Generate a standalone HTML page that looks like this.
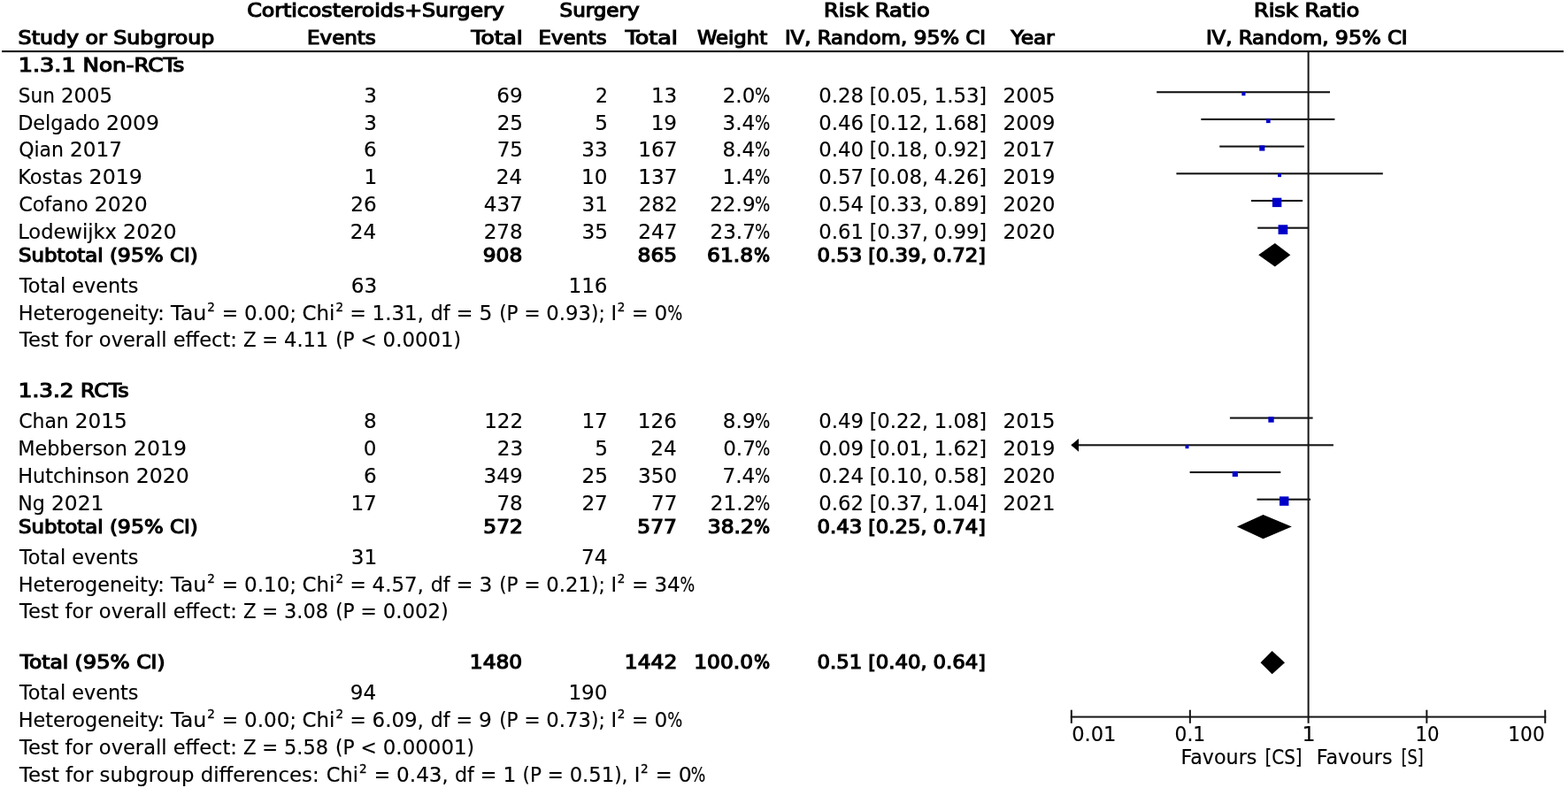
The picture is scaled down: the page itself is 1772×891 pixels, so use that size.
<!DOCTYPE html>
<html lang="en">
<head>
<meta charset="utf-8">
<title>Forest plot: Corticosteroids+Surgery versus Surgery</title>
<style>
html,body{margin:0;padding:0;background:#fff;}
body{width:1772px;height:891px;overflow:hidden;}
svg{display:block;}
text{font-family:"DejaVu Sans","Liberation Sans",sans-serif;font-size:22.4px;fill:#000;stroke:#000;stroke-width:0.15px;stroke-linejoin:round;white-space:pre;}
text.b{font-size:20.6px;stroke-width:1.15px;stroke-linejoin:miter;}
.d{font-size:23.6px;}
text.b .d{font-size:21.4px;}
.sup{font-size:13.5px;stroke-width:0.35px;}
</style>
</head>
<body>
<svg width="1772" height="891" viewBox="0 0 1772 891">
<rect width="1772" height="891" fill="#fff"/>
<g id="shapes">
<rect x="2" y="57.05" width="1765" height="2.1" fill="#161616"/>
<rect x="1477.6" y="58" width="2" height="759.8" fill="#161616"/>
<rect x="1307.2" y="103.15" width="195.8" height="2.1" fill="#161616"/>
<rect x="1403.35" y="104.05" width="4.09" height="4.09" fill="#0000c8"/>
<rect x="1357.3" y="133.85" width="151.1" height="2.1" fill="#161616"/>
<rect x="1430.97" y="134.47" width="4.65" height="4.65" fill="#0000c8"/>
<rect x="1378.2" y="164.55" width="95.6" height="2.1" fill="#161616"/>
<rect x="1423.23" y="164.43" width="6.14" height="6.14" fill="#0000c8"/>
<rect x="1329.4" y="195.25" width="233.4" height="2.1" fill="#161616"/>
<rect x="1444.05" y="196.25" width="3.91" height="3.91" fill="#0000c8"/>
<rect x="1413.9" y="225.95" width="58.2" height="2.1" fill="#161616"/>
<rect x="1437.89" y="223.69" width="10.42" height="10.42" fill="#0000c8"/>
<rect x="1421.2" y="256.65" width="57.4" height="2.1" fill="#161616"/>
<rect x="1444.55" y="254.25" width="10.7" height="10.7" fill="#0000c8"/>
<polygon points="1422.2,288.3 1440.8,275.1 1458.3,288.3 1440.8,301.5" fill="#000"/>
<rect x="1389.9" y="471.55" width="93.7" height="2.1" fill="#161616"/>
<rect x="1433.34" y="471.34" width="6.32" height="6.32" fill="#0000c8"/>
<rect x="1211" y="502.25" width="295.9" height="2.1" fill="#161616"/>
<polygon points="1210.4,503.3 1219,495.9 1219,510.7" fill="#000"/>
<rect x="1339.55" y="503.25" width="3.91" height="3.91" fill="#0000c8"/>
<rect x="1344.6" y="532.95" width="102.7" height="2.1" fill="#161616"/>
<rect x="1392.73" y="532.83" width="6.14" height="6.14" fill="#0000c8"/>
<rect x="1420.5" y="563.65" width="60.6" height="2.1" fill="#161616"/>
<rect x="1445.99" y="561.39" width="10.42" height="10.42" fill="#0000c8"/>
<polygon points="1397.9,595.6 1427.5,581.9 1459.8,595.6 1427.5,609.3" fill="#000"/>
<polygon points="1424.5,749.2 1437.6,736.1 1452,749.2 1437.6,762.3" fill="#000"/>
<rect x="1209.8" y="809.6" width="537.4" height="2" fill="#161616"/>
<rect x="1209.8" y="802.7" width="2" height="15.1" fill="#161616"/>
<rect x="1343.85" y="802.7" width="2" height="15.1" fill="#161616"/>
<rect x="1611.35" y="802.7" width="2" height="15.1" fill="#161616"/>
<rect x="1745.2" y="802.7" width="2" height="15.1" fill="#161616"/>
</g>
<g id="labels">
<text class="b" id="s0" x="279.18" y="18.83" textLength="290.64" lengthAdjust="spacingAndGlyphs">Corticosteroids+Surgery</text>
<text class="b" id="s1" x="632.56" y="18.83" textLength="90" lengthAdjust="spacingAndGlyphs">Surgery</text>
<text class="b" id="s2" x="931.1" y="18.83" textLength="119.64" lengthAdjust="spacingAndGlyphs">Risk Ratio</text>
<text class="b" id="s3" x="1416.92" y="18.83" textLength="119.33" lengthAdjust="spacingAndGlyphs">Risk Ratio</text>
<text class="b" id="s4" x="20.62" y="49.93" textLength="221.62" lengthAdjust="spacingAndGlyphs">Study or Subgroup</text>
<text class="b" id="s5" x="347.11" y="49.93" textLength="77.73" lengthAdjust="spacingAndGlyphs">Events</text>
<text class="b" id="s6" x="532.53" y="49.93" textLength="58.26" lengthAdjust="spacingAndGlyphs">Total</text>
<text class="b" id="s7" x="608.61" y="49.93" textLength="76.85" lengthAdjust="spacingAndGlyphs">Events</text>
<text class="b" id="s8" x="706.66" y="49.93" textLength="59.19" lengthAdjust="spacingAndGlyphs">Total</text>
<text class="b" id="s9" x="787.94" y="49.93" textLength="79.16" lengthAdjust="spacingAndGlyphs">Weight</text>
<text class="b" id="s10" x="886.9" y="49.93" textLength="227.09" lengthAdjust="spacingAndGlyphs">IV, Random, <tspan class="d">95</tspan>% CI</text>
<text class="b" id="s11" x="1142.59" y="49.93" textLength="49.05" lengthAdjust="spacingAndGlyphs">Year</text>
<text class="b" id="s12" x="1362.9" y="49.93" textLength="227.71" lengthAdjust="spacingAndGlyphs">IV, Random, <tspan class="d">95</tspan>% CI</text>
<text class="b" id="s13" x="20.69" y="80.52" textLength="187.55" lengthAdjust="spacingAndGlyphs"><tspan class="d">1.3.1</tspan> Non-RCTs</text>
<text id="s14" x="20.85" y="116" textLength="106.04" lengthAdjust="spacingAndGlyphs">Sun <tspan class="d">2005</tspan></text>
<text id="s15" x="426.07" y="116" text-anchor="end" textLength="14.71" lengthAdjust="spacingAndGlyphs"><tspan class="d">3</tspan></text>
<text id="s16" x="590.7" y="116" text-anchor="end" textLength="29.41" lengthAdjust="spacingAndGlyphs"><tspan class="d">69</tspan></text>
<text id="s17" x="687" y="116" text-anchor="end" textLength="13.96" lengthAdjust="spacingAndGlyphs">2</text>
<text id="s18" x="765.31" y="116" text-anchor="end" textLength="29.41" lengthAdjust="spacingAndGlyphs"><tspan class="d">13</tspan></text>
<text><tspan id="s19" x="853.42" y="116" text-anchor="end" textLength="36.76" lengthAdjust="spacingAndGlyphs"><tspan class="d">2.0</tspan></tspan><tspan id="s20" x="853.11" y="116" textLength="17.32" lengthAdjust="spacingAndGlyphs">%</tspan></text>
<text id="s21" x="1115.06" y="116" text-anchor="end" textLength="189.88" lengthAdjust="spacingAndGlyphs"><tspan class="d">0.28</tspan> [<tspan class="d">0.05</tspan>, <tspan class="d">1.53</tspan>]</text>
<text id="s22" x="1133.55" y="116" textLength="58.81" lengthAdjust="spacingAndGlyphs"><tspan class="d">2005</tspan></text>
<text id="s23" x="20.19" y="146.7" textLength="159.65" lengthAdjust="spacingAndGlyphs">Delgado <tspan class="d">2009</tspan></text>
<text id="s24" x="426.07" y="146.7" text-anchor="end" textLength="14.71" lengthAdjust="spacingAndGlyphs"><tspan class="d">3</tspan></text>
<text id="s25" x="591.04" y="146.7" text-anchor="end" textLength="29.41" lengthAdjust="spacingAndGlyphs"><tspan class="d">25</tspan></text>
<text id="s26" x="686.85" y="146.7" text-anchor="end" textLength="14.71" lengthAdjust="spacingAndGlyphs"><tspan class="d">5</tspan></text>
<text id="s27" x="765.08" y="146.7" text-anchor="end" textLength="29.41" lengthAdjust="spacingAndGlyphs"><tspan class="d">19</tspan></text>
<text><tspan id="s28" x="853.21" y="146.7" text-anchor="end" textLength="36.76" lengthAdjust="spacingAndGlyphs"><tspan class="d">3.4</tspan></tspan><tspan id="s29" x="853.11" y="146.7" textLength="17.32" lengthAdjust="spacingAndGlyphs">%</tspan></text>
<text id="s30" x="1115.06" y="146.7" text-anchor="end" textLength="189.88" lengthAdjust="spacingAndGlyphs"><tspan class="d">0.46</tspan> [<tspan class="d">0.12</tspan>, <tspan class="d">1.68</tspan>]</text>
<text id="s31" x="1133.55" y="146.7" textLength="58.81" lengthAdjust="spacingAndGlyphs"><tspan class="d">2009</tspan></text>
<text id="s32" x="21.17" y="177.4" textLength="116.72" lengthAdjust="spacingAndGlyphs">Qian <tspan class="d">2017</tspan></text>
<text id="s33" x="425.62" y="177.4" text-anchor="end" textLength="14.71" lengthAdjust="spacingAndGlyphs"><tspan class="d">6</tspan></text>
<text id="s34" x="591.04" y="177.4" text-anchor="end" textLength="29.41" lengthAdjust="spacingAndGlyphs"><tspan class="d">75</tspan></text>
<text id="s35" x="686.7" y="177.4" text-anchor="end" textLength="29.41" lengthAdjust="spacingAndGlyphs"><tspan class="d">33</tspan></text>
<text id="s36" x="765.42" y="177.4" text-anchor="end" textLength="44.12" lengthAdjust="spacingAndGlyphs"><tspan class="d">167</tspan></text>
<text><tspan id="s37" x="853.21" y="177.4" text-anchor="end" textLength="36.76" lengthAdjust="spacingAndGlyphs"><tspan class="d">8.4</tspan></tspan><tspan id="s38" x="853.11" y="177.4" textLength="17.32" lengthAdjust="spacingAndGlyphs">%</tspan></text>
<text id="s39" x="1115.06" y="177.4" text-anchor="end" textLength="189.88" lengthAdjust="spacingAndGlyphs"><tspan class="d">0.40</tspan> [<tspan class="d">0.18</tspan>, <tspan class="d">0.92</tspan>]</text>
<text id="s40" x="1133.55" y="177.4" textLength="58.81" lengthAdjust="spacingAndGlyphs"><tspan class="d">2017</tspan></text>
<text id="s41" x="20.16" y="208.1" textLength="140.66" lengthAdjust="spacingAndGlyphs">Kostas <tspan class="d">2019</tspan></text>
<text id="s42" x="426.19" y="208.1" text-anchor="end" textLength="14.71" lengthAdjust="spacingAndGlyphs"><tspan class="d">1</tspan></text>
<text id="s43" x="590.22" y="208.1" text-anchor="end" textLength="29.41" lengthAdjust="spacingAndGlyphs"><tspan class="d">24</tspan></text>
<text id="s44" x="686.38" y="208.1" text-anchor="end" textLength="29.41" lengthAdjust="spacingAndGlyphs"><tspan class="d">10</tspan></text>
<text id="s45" x="765.42" y="208.1" text-anchor="end" textLength="44.12" lengthAdjust="spacingAndGlyphs"><tspan class="d">137</tspan></text>
<text><tspan id="s46" x="853.21" y="208.1" text-anchor="end" textLength="36.76" lengthAdjust="spacingAndGlyphs"><tspan class="d">1.4</tspan></tspan><tspan id="s47" x="853.11" y="208.1" textLength="17.32" lengthAdjust="spacingAndGlyphs">%</tspan></text>
<text id="s48" x="1115.06" y="208.1" text-anchor="end" textLength="189.88" lengthAdjust="spacingAndGlyphs"><tspan class="d">0.57</tspan> [<tspan class="d">0.08</tspan>, <tspan class="d">4.26</tspan>]</text>
<text id="s49" x="1133.55" y="208.1" textLength="58.81" lengthAdjust="spacingAndGlyphs"><tspan class="d">2019</tspan></text>
<text id="s50" x="21.14" y="238.8" textLength="145.52" lengthAdjust="spacingAndGlyphs">Cofano <tspan class="d">2020</tspan></text>
<text id="s51" x="425.72" y="238.8" text-anchor="end" textLength="29.41" lengthAdjust="spacingAndGlyphs"><tspan class="d">26</tspan></text>
<text id="s52" x="590.82" y="238.8" text-anchor="end" textLength="44.12" lengthAdjust="spacingAndGlyphs"><tspan class="d">437</tspan></text>
<text id="s53" x="686.91" y="238.8" text-anchor="end" textLength="29.41" lengthAdjust="spacingAndGlyphs"><tspan class="d">31</tspan></text>
<text id="s54" x="765.75" y="238.8" text-anchor="end" textLength="44.12" lengthAdjust="spacingAndGlyphs"><tspan class="d">282</tspan></text>
<text><tspan id="s55" x="853.62" y="238.8" text-anchor="end" textLength="51.46" lengthAdjust="spacingAndGlyphs"><tspan class="d">22.9</tspan></tspan><tspan id="s56" x="853.11" y="238.8" textLength="17.32" lengthAdjust="spacingAndGlyphs">%</tspan></text>
<text id="s57" x="1115.06" y="238.8" text-anchor="end" textLength="189.88" lengthAdjust="spacingAndGlyphs"><tspan class="d">0.54</tspan> [<tspan class="d">0.33</tspan>, <tspan class="d">0.89</tspan>]</text>
<text id="s58" x="1133.55" y="238.8" textLength="58.81" lengthAdjust="spacingAndGlyphs"><tspan class="d">2020</tspan></text>
<text id="s59" x="20.15" y="269.5" textLength="179.57" lengthAdjust="spacingAndGlyphs">Lodewijkx <tspan class="d">2020</tspan></text>
<text id="s60" x="425.22" y="269.5" text-anchor="end" textLength="29.41" lengthAdjust="spacingAndGlyphs"><tspan class="d">24</tspan></text>
<text id="s61" x="590.79" y="269.5" text-anchor="end" textLength="44.12" lengthAdjust="spacingAndGlyphs"><tspan class="d">278</tspan></text>
<text id="s62" x="686.85" y="269.5" text-anchor="end" textLength="29.41" lengthAdjust="spacingAndGlyphs"><tspan class="d">35</tspan></text>
<text id="s63" x="765.42" y="269.5" text-anchor="end" textLength="44.12" lengthAdjust="spacingAndGlyphs"><tspan class="d">247</tspan></text>
<text><tspan id="s64" x="853.93" y="269.5" text-anchor="end" textLength="51.46" lengthAdjust="spacingAndGlyphs"><tspan class="d">23.7</tspan></tspan><tspan id="s65" x="853.11" y="269.5" textLength="17.32" lengthAdjust="spacingAndGlyphs">%</tspan></text>
<text id="s66" x="1115.06" y="269.5" text-anchor="end" textLength="189.88" lengthAdjust="spacingAndGlyphs"><tspan class="d">0.61</tspan> [<tspan class="d">0.37</tspan>, <tspan class="d">0.99</tspan>]</text>
<text id="s67" x="1133.55" y="269.5" textLength="58.81" lengthAdjust="spacingAndGlyphs"><tspan class="d">2020</tspan></text>
<text class="b" id="s68" x="20.96" y="295.82" textLength="202.66" lengthAdjust="spacingAndGlyphs">Subtotal (<tspan class="d">95</tspan>% CI)</text>
<text class="b" id="s69" x="590.29" y="295.82" text-anchor="end" textLength="44.55" lengthAdjust="spacingAndGlyphs"><tspan class="d">908</tspan></text>
<text class="b" id="s70" x="765.09" y="295.82" text-anchor="end" textLength="44.55" lengthAdjust="spacingAndGlyphs"><tspan class="d">865</tspan></text>
<text class="b"><tspan id="s71" x="851.11" y="295.82" text-anchor="end" textLength="51.98" lengthAdjust="spacingAndGlyphs"><tspan class="d">61.8</tspan></tspan><tspan id="s72" x="851.91" y="295.82" textLength="18.12" lengthAdjust="spacingAndGlyphs">%</tspan></text>
<text class="b" id="s73" x="1113.91" y="295.82" text-anchor="end" textLength="190.5" lengthAdjust="spacingAndGlyphs"><tspan class="d">0.53</tspan> [<tspan class="d">0.39</tspan>, <tspan class="d">0.72</tspan>]</text>
<text id="s74" x="22.02" y="330.9" textLength="134.43" lengthAdjust="spacingAndGlyphs">Total events</text>
<text id="s75" x="426.14" y="330.9" text-anchor="end" textLength="29.41" lengthAdjust="spacingAndGlyphs"><tspan class="d">63</tspan></text>
<text id="s76" x="686.56" y="330.9" text-anchor="end" textLength="44.12" lengthAdjust="spacingAndGlyphs"><tspan class="d">116</tspan></text>
<text><tspan id="s77" x="20.7" y="361.6" textLength="165.15" lengthAdjust="spacingAndGlyphs">Heterogeneity:</tspan> <tspan id="s78" x="193.05" y="361.6" textLength="40.24" lengthAdjust="spacingAndGlyphs">Tau</tspan><tspan id="s79" x="234.34" y="351.8" class="sup">2</tspan> <tspan id="s80" x="250.72" y="361.6" textLength="84.05" lengthAdjust="spacingAndGlyphs">= <tspan class="d">0.00</tspan>;</tspan> <tspan id="s81" x="341.42" y="361.6" textLength="36.84" lengthAdjust="spacingAndGlyphs">Chi</tspan><tspan id="s82" x="379.6" y="351.8" class="sup">2</tspan> <tspan id="s83" x="395.43" y="361.6" textLength="83.26" lengthAdjust="spacingAndGlyphs">= <tspan class="d">1.31</tspan>,</tspan> <tspan id="s84" x="486.77" y="361.6" textLength="69.59" lengthAdjust="spacingAndGlyphs">df = <tspan class="d">5</tspan></tspan> <tspan id="s85" x="564.14" y="361.6" textLength="119.57" lengthAdjust="spacingAndGlyphs">(P = <tspan class="d">0.93</tspan>);</tspan> <tspan id="s86" x="690.53" y="361.6">I</tspan><tspan id="s87" x="697.78" y="351.8" class="sup">2</tspan> <tspan id="s88" x="714.09" y="361.6" textLength="40.33" lengthAdjust="spacingAndGlyphs">= <tspan class="d">0</tspan></tspan><tspan id="s89" x="754.14" y="361.6" textLength="17.01" lengthAdjust="spacingAndGlyphs">%</tspan></text>
<text><tspan id="s90" x="21.99" y="392.3" textLength="245.91" lengthAdjust="spacingAndGlyphs">Test for overall effect:</tspan> <tspan id="s91" x="274.94" y="392.3" textLength="96.27" lengthAdjust="spacingAndGlyphs">Z = <tspan class="d">4.11</tspan></tspan> <tspan id="s92" x="379.13" y="392.3" textLength="141.91" lengthAdjust="spacingAndGlyphs">(P &lt; <tspan class="d">0.0001</tspan>)</tspan></text>
<text class="b" id="s93" x="20.84" y="448.92" textLength="124.88" lengthAdjust="spacingAndGlyphs"><tspan class="d">1.3.2</tspan> RCTs</text>
<text id="s94" x="21.17" y="484.4" textLength="122.5" lengthAdjust="spacingAndGlyphs">Chan <tspan class="d">2015</tspan></text>
<text id="s95" x="425.69" y="484.4" text-anchor="end" textLength="14.71" lengthAdjust="spacingAndGlyphs"><tspan class="d">8</tspan></text>
<text id="s96" x="591.28" y="484.4" text-anchor="end" textLength="44.12" lengthAdjust="spacingAndGlyphs"><tspan class="d">122</tspan></text>
<text id="s97" x="686.79" y="484.4" text-anchor="end" textLength="29.41" lengthAdjust="spacingAndGlyphs"><tspan class="d">17</tspan></text>
<text id="s98" x="764.98" y="484.4" text-anchor="end" textLength="44.12" lengthAdjust="spacingAndGlyphs"><tspan class="d">126</tspan></text>
<text><tspan id="s99" x="853.62" y="484.4" text-anchor="end" textLength="36.76" lengthAdjust="spacingAndGlyphs"><tspan class="d">8.9</tspan></tspan><tspan id="s100" x="853.11" y="484.4" textLength="17.32" lengthAdjust="spacingAndGlyphs">%</tspan></text>
<text id="s101" x="1115.06" y="484.4" text-anchor="end" textLength="189.88" lengthAdjust="spacingAndGlyphs"><tspan class="d">0.49</tspan> [<tspan class="d">0.22</tspan>, <tspan class="d">1.08</tspan>]</text>
<text id="s102" x="1133.55" y="484.4" textLength="58.81" lengthAdjust="spacingAndGlyphs"><tspan class="d">2015</tspan></text>
<text id="s103" x="20.16" y="515.1" textLength="190.77" lengthAdjust="spacingAndGlyphs">Mebberson <tspan class="d">2019</tspan></text>
<text id="s104" x="425.56" y="515.1" text-anchor="end" textLength="14.71" lengthAdjust="spacingAndGlyphs"><tspan class="d">0</tspan></text>
<text id="s105" x="591.14" y="515.1" text-anchor="end" textLength="29.41" lengthAdjust="spacingAndGlyphs"><tspan class="d">23</tspan></text>
<text id="s106" x="686.85" y="515.1" text-anchor="end" textLength="14.71" lengthAdjust="spacingAndGlyphs"><tspan class="d">5</tspan></text>
<text id="s107" x="764.74" y="515.1" text-anchor="end" textLength="29.41" lengthAdjust="spacingAndGlyphs"><tspan class="d">24</tspan></text>
<text><tspan id="s108" x="853.93" y="515.1" text-anchor="end" textLength="36.76" lengthAdjust="spacingAndGlyphs"><tspan class="d">0.7</tspan></tspan><tspan id="s109" x="853.11" y="515.1" textLength="17.32" lengthAdjust="spacingAndGlyphs">%</tspan></text>
<text id="s110" x="1115.06" y="515.1" text-anchor="end" textLength="189.88" lengthAdjust="spacingAndGlyphs"><tspan class="d">0.09</tspan> [<tspan class="d">0.01</tspan>, <tspan class="d">1.62</tspan>]</text>
<text id="s111" x="1133.55" y="515.1" textLength="58.81" lengthAdjust="spacingAndGlyphs"><tspan class="d">2019</tspan></text>
<text id="s112" x="20.16" y="545.8" textLength="193.59" lengthAdjust="spacingAndGlyphs">Hutchinson <tspan class="d">2020</tspan></text>
<text id="s113" x="425.62" y="545.8" text-anchor="end" textLength="14.71" lengthAdjust="spacingAndGlyphs"><tspan class="d">6</tspan></text>
<text id="s114" x="590.7" y="545.8" text-anchor="end" textLength="44.12" lengthAdjust="spacingAndGlyphs"><tspan class="d">349</tspan></text>
<text id="s115" x="686.85" y="545.8" text-anchor="end" textLength="29.41" lengthAdjust="spacingAndGlyphs"><tspan class="d">25</tspan></text>
<text id="s116" x="765.14" y="545.8" text-anchor="end" textLength="44.12" lengthAdjust="spacingAndGlyphs"><tspan class="d">350</tspan></text>
<text><tspan id="s117" x="853.21" y="545.8" text-anchor="end" textLength="36.76" lengthAdjust="spacingAndGlyphs"><tspan class="d">7.4</tspan></tspan><tspan id="s118" x="853.11" y="545.8" textLength="17.32" lengthAdjust="spacingAndGlyphs">%</tspan></text>
<text id="s119" x="1115.06" y="545.8" text-anchor="end" textLength="189.88" lengthAdjust="spacingAndGlyphs"><tspan class="d">0.24</tspan> [<tspan class="d">0.10</tspan>, <tspan class="d">0.58</tspan>]</text>
<text id="s120" x="1133.55" y="545.8" textLength="58.81" lengthAdjust="spacingAndGlyphs"><tspan class="d">2020</tspan></text>
<text id="s121" x="20.19" y="576.5" textLength="97.19" lengthAdjust="spacingAndGlyphs">Ng <tspan class="d">2021</tspan></text>
<text id="s122" x="425.82" y="576.5" text-anchor="end" textLength="29.41" lengthAdjust="spacingAndGlyphs"><tspan class="d">17</tspan></text>
<text id="s123" x="590.79" y="576.5" text-anchor="end" textLength="29.41" lengthAdjust="spacingAndGlyphs"><tspan class="d">78</tspan></text>
<text id="s124" x="686.79" y="576.5" text-anchor="end" textLength="29.41" lengthAdjust="spacingAndGlyphs"><tspan class="d">27</tspan></text>
<text id="s125" x="765.42" y="576.5" text-anchor="end" textLength="29.41" lengthAdjust="spacingAndGlyphs"><tspan class="d">77</tspan></text>
<text><tspan id="s126" x="854.25" y="576.5" text-anchor="end" textLength="51.46" lengthAdjust="spacingAndGlyphs"><tspan class="d">21.2</tspan></tspan><tspan id="s127" x="853.11" y="576.5" textLength="17.32" lengthAdjust="spacingAndGlyphs">%</tspan></text>
<text id="s128" x="1115.06" y="576.5" text-anchor="end" textLength="189.88" lengthAdjust="spacingAndGlyphs"><tspan class="d">0.62</tspan> [<tspan class="d">0.37</tspan>, <tspan class="d">1.04</tspan>]</text>
<text id="s129" x="1133.55" y="576.5" textLength="58.81" lengthAdjust="spacingAndGlyphs"><tspan class="d">2021</tspan></text>
<text class="b" id="s130" x="20.96" y="602.83" textLength="202.66" lengthAdjust="spacingAndGlyphs">Subtotal (<tspan class="d">95</tspan>% CI)</text>
<text class="b" id="s131" x="590.93" y="602.83" text-anchor="end" textLength="44.55" lengthAdjust="spacingAndGlyphs"><tspan class="d">572</tspan></text>
<text class="b" id="s132" x="764.91" y="602.83" text-anchor="end" textLength="44.55" lengthAdjust="spacingAndGlyphs"><tspan class="d">577</tspan></text>
<text class="b"><tspan id="s133" x="851.77" y="602.83" text-anchor="end" textLength="51.98" lengthAdjust="spacingAndGlyphs"><tspan class="d">38.2</tspan></tspan><tspan id="s134" x="851.91" y="602.83" textLength="18.12" lengthAdjust="spacingAndGlyphs">%</tspan></text>
<text class="b" id="s135" x="1113.91" y="602.83" text-anchor="end" textLength="190.5" lengthAdjust="spacingAndGlyphs"><tspan class="d">0.43</tspan> [<tspan class="d">0.25</tspan>, <tspan class="d">0.74</tspan>]</text>
<text id="s136" x="22.02" y="637.9" textLength="134.43" lengthAdjust="spacingAndGlyphs">Total events</text>
<text id="s137" x="426.25" y="637.9" text-anchor="end" textLength="29.41" lengthAdjust="spacingAndGlyphs"><tspan class="d">31</tspan></text>
<text id="s138" x="686.4" y="637.9" text-anchor="end" textLength="29.41" lengthAdjust="spacingAndGlyphs"><tspan class="d">74</tspan></text>
<text><tspan id="s139" x="20.7" y="668.6" textLength="165.15" lengthAdjust="spacingAndGlyphs">Heterogeneity:</tspan> <tspan id="s140" x="193.05" y="668.6" textLength="40.24" lengthAdjust="spacingAndGlyphs">Tau</tspan><tspan id="s141" x="234.34" y="658.8" class="sup">2</tspan> <tspan id="s142" x="250.72" y="668.6" textLength="84.05" lengthAdjust="spacingAndGlyphs">= <tspan class="d">0.10</tspan>;</tspan> <tspan id="s143" x="341.42" y="668.6" textLength="36.84" lengthAdjust="spacingAndGlyphs">Chi</tspan><tspan id="s144" x="379.6" y="658.8" class="sup">2</tspan> <tspan id="s145" x="395.43" y="668.6" textLength="83.26" lengthAdjust="spacingAndGlyphs">= <tspan class="d">4.57</tspan>,</tspan> <tspan id="s146" x="486.78" y="668.6" textLength="69.52" lengthAdjust="spacingAndGlyphs">df = <tspan class="d">3</tspan></tspan> <tspan id="s147" x="564.14" y="668.6" textLength="119.57" lengthAdjust="spacingAndGlyphs">(P = <tspan class="d">0.21</tspan>);</tspan> <tspan id="s148" x="690.53" y="668.6">I</tspan><tspan id="s149" x="697.78" y="658.8" class="sup">2</tspan> <tspan id="s150" x="714.16" y="668.6" textLength="54.55" lengthAdjust="spacingAndGlyphs">= <tspan class="d">34</tspan></tspan><tspan id="s151" x="768.58" y="668.6" textLength="16.7" lengthAdjust="spacingAndGlyphs">%</tspan></text>
<text><tspan id="s152" x="21.99" y="699.3" textLength="245.91" lengthAdjust="spacingAndGlyphs">Test for overall effect:</tspan> <tspan id="s153" x="274.94" y="699.3" textLength="96.08" lengthAdjust="spacingAndGlyphs">Z = <tspan class="d">3.08</tspan></tspan> <tspan id="s154" x="379.13" y="699.3" textLength="127.52" lengthAdjust="spacingAndGlyphs">(P = <tspan class="d">0.002</tspan>)</tspan></text>
<text class="b" id="s155" x="22.67" y="756.32" textLength="163.9" lengthAdjust="spacingAndGlyphs">Total (<tspan class="d">95</tspan>% CI)</text>
<text class="b" id="s156" x="590.21" y="756.32" text-anchor="end" textLength="59.4" lengthAdjust="spacingAndGlyphs"><tspan class="d">1480</tspan></text>
<text class="b" id="s157" x="765.28" y="756.32" text-anchor="end" textLength="59.4" lengthAdjust="spacingAndGlyphs"><tspan class="d">1442</tspan></text>
<text class="b"><tspan id="s158" x="851.03" y="756.32" text-anchor="end" textLength="66.83" lengthAdjust="spacingAndGlyphs"><tspan class="d">100.0</tspan></tspan><tspan id="s159" x="851.91" y="756.32" textLength="18.12" lengthAdjust="spacingAndGlyphs">%</tspan></text>
<text class="b" id="s160" x="1113.91" y="756.32" text-anchor="end" textLength="190.5" lengthAdjust="spacingAndGlyphs"><tspan class="d">0.51</tspan> [<tspan class="d">0.40</tspan>, <tspan class="d">0.64</tspan>]</text>
<text id="s161" x="22.02" y="791.4" textLength="134.43" lengthAdjust="spacingAndGlyphs">Total events</text>
<text id="s162" x="425.22" y="791.4" text-anchor="end" textLength="29.41" lengthAdjust="spacingAndGlyphs"><tspan class="d">94</tspan></text>
<text id="s163" x="686.5" y="791.4" text-anchor="end" textLength="44.12" lengthAdjust="spacingAndGlyphs"><tspan class="d">190</tspan></text>
<text><tspan id="s164" x="20.7" y="822.1" textLength="165.15" lengthAdjust="spacingAndGlyphs">Heterogeneity:</tspan> <tspan id="s165" x="193.05" y="822.1" textLength="40.24" lengthAdjust="spacingAndGlyphs">Tau</tspan><tspan id="s166" x="234.34" y="812.3" class="sup">2</tspan> <tspan id="s167" x="250.72" y="822.1" textLength="84.05" lengthAdjust="spacingAndGlyphs">= <tspan class="d">0.00</tspan>;</tspan> <tspan id="s168" x="341.42" y="822.1" textLength="36.84" lengthAdjust="spacingAndGlyphs">Chi</tspan><tspan id="s169" x="379.6" y="812.3" class="sup">2</tspan> <tspan id="s170" x="395.43" y="822.1" textLength="83.26" lengthAdjust="spacingAndGlyphs">= <tspan class="d">6.09</tspan>,</tspan> <tspan id="s171" x="486.79" y="822.1" textLength="69.14" lengthAdjust="spacingAndGlyphs">df = <tspan class="d">9</tspan></tspan> <tspan id="s172" x="564.14" y="822.1" textLength="119.57" lengthAdjust="spacingAndGlyphs">(P = <tspan class="d">0.73</tspan>);</tspan> <tspan id="s173" x="690.53" y="822.1">I</tspan><tspan id="s174" x="697.78" y="812.3" class="sup">2</tspan> <tspan id="s175" x="714.09" y="822.1" textLength="40.33" lengthAdjust="spacingAndGlyphs">= <tspan class="d">0</tspan></tspan><tspan id="s176" x="754.14" y="822.1" textLength="17.01" lengthAdjust="spacingAndGlyphs">%</tspan></text>
<text><tspan id="s177" x="21.99" y="852.8" textLength="245.91" lengthAdjust="spacingAndGlyphs">Test for overall effect:</tspan> <tspan id="s178" x="274.94" y="852.8" textLength="96.08" lengthAdjust="spacingAndGlyphs">Z = <tspan class="d">5.58</tspan></tspan> <tspan id="s179" x="379.12" y="852.8" textLength="156.94" lengthAdjust="spacingAndGlyphs">(P &lt; <tspan class="d">0.00001</tspan>)</tspan></text>
<text><tspan id="s180" x="21.99" y="883.5" textLength="338.61" lengthAdjust="spacingAndGlyphs">Test for subgroup differences:</tspan> <tspan id="s181" x="368.78" y="883.5" textLength="36.16" lengthAdjust="spacingAndGlyphs">Chi</tspan><tspan id="s182" x="406.08" y="873.7" class="sup">2</tspan> <tspan id="s183" x="422.8" y="883.5" textLength="83.69" lengthAdjust="spacingAndGlyphs">= <tspan class="d">0.43</tspan>,</tspan> <tspan id="s184" x="513.9" y="883.5" textLength="69.41" lengthAdjust="spacingAndGlyphs">df = <tspan class="d">1</tspan></tspan> <tspan id="s185" x="590.61" y="883.5" textLength="118.81" lengthAdjust="spacingAndGlyphs">(P = <tspan class="d">0.51</tspan>),</tspan> <tspan id="s186" x="716.87" y="883.5">I</tspan><tspan id="s187" x="724.1" y="873.7" class="sup">2</tspan> <tspan id="s188" x="740.77" y="883.5" textLength="41.11" lengthAdjust="spacingAndGlyphs">= <tspan class="d">0</tspan></tspan><tspan id="s189" x="780.85" y="883.5" textLength="16.52" lengthAdjust="spacingAndGlyphs">%</tspan></text>
<text id="s190" x="1211.13" y="838.1" textLength="50.33" lengthAdjust="spacingAndGlyphs"><tspan class="d">0.01</tspan></text>
<text id="s191" x="1327.53" y="838.1" textLength="34.68" lengthAdjust="spacingAndGlyphs"><tspan class="d">0.1</tspan></text>
<text id="s192" x="1471.38" y="838.1"><tspan class="d">1</tspan></text>
<text id="s193" x="1599.54" y="838.1" textLength="27.1" lengthAdjust="spacingAndGlyphs"><tspan class="d">10</tspan></text>
<text id="s194" x="1704.37" y="838.1" textLength="41.3" lengthAdjust="spacingAndGlyphs"><tspan class="d">100</tspan></text>
<text><tspan id="s195" x="1334.5" y="863.9" textLength="85.92" lengthAdjust="spacingAndGlyphs">Favours</tspan> <tspan id="s196" x="1429.4" y="863.9" textLength="42.22" lengthAdjust="spacingAndGlyphs">[CS]</tspan></text>
<text><tspan id="s197" x="1487.69" y="863.9" textLength="85.9" lengthAdjust="spacingAndGlyphs">Favours</tspan> <tspan id="s198" x="1583.5" y="863.9" textLength="25.19" lengthAdjust="spacingAndGlyphs">[S]</tspan></text>
</g>
</svg>
</body>
</html>
